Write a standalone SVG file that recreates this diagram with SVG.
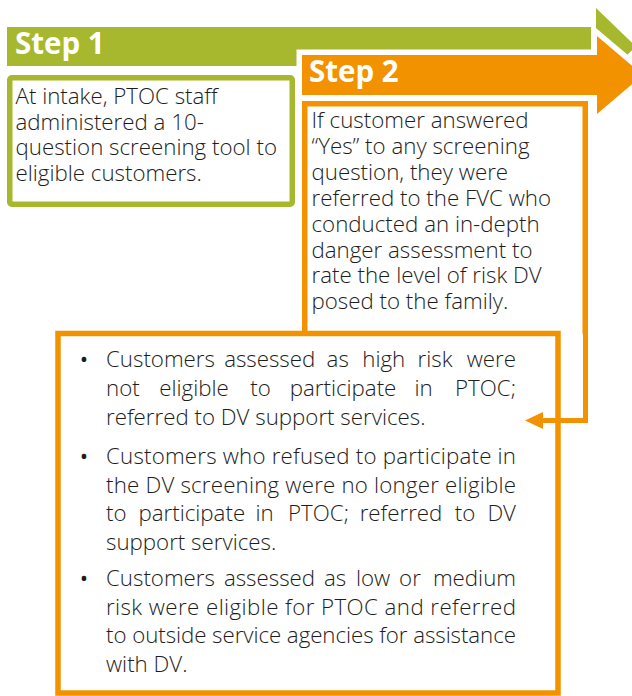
<svg xmlns="http://www.w3.org/2000/svg" width="632" height="696" viewBox="0 0 632 696">
<defs>
<style>
.t{font-family:"Open Sans","Noto Sans","Liberation Sans",sans-serif;font-size:22.3px;font-weight:300;fill:#1d1d1b}
.e{text-anchor:end}
.m{text-anchor:middle}
.b{font-weight:400}
.step{font-family:"Open Sans","Noto Sans","Liberation Sans",sans-serif;font-size:29.5px;font-weight:bold;fill:#ffffff}
.gbox{fill:#ffffff;stroke:#a7b82e;stroke-width:5.5}
.obox{fill:#ffffff;stroke:#f39200;stroke-width:5.5}
.conn{fill:none;stroke:#f39200;stroke-width:5}
</style>
</defs>
<g id="arrow-step1">
<rect x="7" y="27" width="584" height="39" fill="#a7b82e"/>
<polygon points="596,8 636,46.5 596,85" fill="#a7b82e"/>
<text class="step" x="15" y="54">Step 1</text>
</g>
<g id="arrow-step2">
<polygon points="302,55 597,55 597,36 643,75 597,114 597,95 302,95" fill="#f39200" stroke="#ffffff" stroke-width="11" paint-order="stroke" stroke-linejoin="miter"/>
<text class="step" x="309" y="81.5">Step 2</text>
</g>
<g id="box-step1">
<rect class="gbox" x="9.75" y="77.75" width="282.5" height="126.5" rx="2"/>
<text class="t" x="15.5" y="104">At intake, PTOC staff</text>
<text class="t" x="15.5" y="129.5">administered a 10-</text>
<text class="t" x="15.5" y="155">question screening tool to</text>
<text class="t" x="15.5" y="180.5">eligible customers.</text>
</g>
<g id="box-step2">
<path class="obox" d="M304.75,334 V103.75 H585.25 V334"/>
<text class="t" x="311.5" y="128">If customer answered</text>
<text class="t" x="311.5" y="154">“Yes” to any screening</text>
<text class="t" x="311.5" y="180">question, they were</text>
<text class="t" x="311.5" y="206">referred to the FVC who</text>
<text class="t" x="311.5" y="232">conducted an in-depth</text>
<text class="t" x="311.5" y="257.5">danger assessment to</text>
<text class="t" x="311.5" y="283">rate the level of risk DV</text>
<text class="t" x="311.5" y="309">posed to the family.</text>
</g>
<g id="box-outcomes">
<rect class="obox" x="58" y="333.5" width="500" height="359.5"/>
<text class="t m b" x="84" y="367">•</text>
<text class="t" x="106" y="367">Customers</text>
<text class="t m" x="269.7" y="367">assessed</text>
<text class="t m" x="337.7" y="367">as</text>
<text class="t m" x="383.8" y="367">high</text>
<text class="t m" x="435" y="367">risk</text>
<text class="t e" x="516" y="367">were</text>
<text class="t" x="106" y="396">not</text>
<text class="t m" x="194" y="396">eligible</text>
<text class="t m" x="260.5" y="396">to</text>
<text class="t m" x="343" y="396">participate</text>
<text class="t m" x="423.5" y="396">in</text>
<text class="t e" x="516" y="396">PTOC;</text>
<text class="t" x="106" y="425">referred to DV support services.</text>
<text class="t m b" x="84" y="464">•</text>
<text class="t" x="106" y="464" textLength="410" lengthAdjust="spacing">Customers who refused to participate in</text>
<text class="t" x="106" y="492.7" textLength="410" lengthAdjust="spacing">the DV screening were no longer eligible</text>
<text class="t" x="106" y="521.2">to</text>
<text class="t m" x="191.8" y="521.2">participate</text>
<text class="t m" x="264.5" y="521.2">in</text>
<text class="t m" x="318.5" y="521.2">PTOC;</text>
<text class="t m" x="401" y="521.2">referred</text>
<text class="t m" x="465" y="521.2">to</text>
<text class="t e" x="516" y="521.2">DV</text>
<text class="t" x="106" y="549.6">support services.</text>
<text class="t m b" x="84" y="586.2">•</text>
<text class="t" x="106" y="586.2">Customers</text>
<text class="t m" x="269.5" y="586.2">assessed</text>
<text class="t m" x="335" y="586.2">as</text>
<text class="t m" x="373" y="586.2">low</text>
<text class="t m" x="410" y="586.2">or</text>
<text class="t e" x="516" y="586.2">medium</text>
<text class="t" x="106" y="614.8" textLength="410" lengthAdjust="spacing">risk were eligible for PTOC and referred</text>
<text class="t" x="106" y="643.4" textLength="410" lengthAdjust="spacing">to outside service agencies for assistance</text>
<text class="t" x="106" y="672">with DV.</text>
</g>
<g id="connectors">
<path class="conn" d="M585.5,332 V420.5 H542"/>
<polygon points="525,420.5 543,412 543,429" fill="#f39200"/>
</g>
</svg>
